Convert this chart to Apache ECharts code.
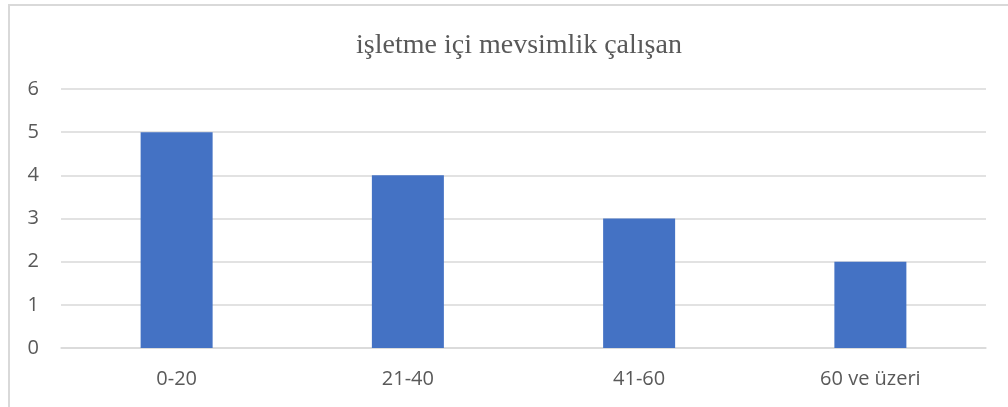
<!DOCTYPE html>
<html>
<head>
<meta charset="utf-8">
<script src="https://cdn.jsdelivr.net/npm/echarts@6/dist/echarts.min.js"></script>
<style>
  html, body { margin: 0; padding: 0; background: #fff; }
  #chart { width: 1008px; height: 407px; }
</style>
</head>
<body>
<div id="chart"></div>
<script>
var categories = ['0-20', '21-40', '41-60', '60 ve üzeri'];
var values = [5, 4, 3, 2];
var titleText = 'işletme içi mevsimlik çalışan';

var myChart = echarts.init(document.getElementById('chart'));

var option = {
    animation: false,
    title: {
        text: titleText,
        left: 514,
        textAlign: 'center',
        top: 27,
        textStyle: {
            fontFamily: 'Liberation Serif',
            fontWeight: 'normal',
            fontSize: 28,
            color: '#595959'
        }
    },
    // chart frame (only left and top edges visible)
    graphic: [{
        type: 'rect',
        shape: { x: 9, y: 5, width: 1200, height: 600 },
        style: { fill: 'none', stroke: '#d9d9d9', lineWidth: 2 },
        silent: true
    }],
    grid: {
        left: 61,
        right: 22,
        top: 89,
        bottom: 59
    },
    xAxis: {
        type: 'category',
        data: categories,
        axisLine: { lineStyle: { color: '#d9d9d9', width: 1.5 } },
        axisTick: { show: false },
        axisLabel: {
            fontFamily: 'Open Sans',
            fontSize: 20,
            color: '#595959',
            margin: 21
        }
    },
    yAxis: {
        type: 'value',
        min: 0,
        max: 6,
        interval: 1,
        axisLine: { show: false },
        axisTick: { show: false },
        splitLine: { lineStyle: { color: '#d9d9d9', width: 1.5 } },
        axisLabel: {
            fontFamily: 'Open Sans',
            fontSize: 20,
            color: '#595959',
            margin: 22
        }
    },
    series: [{
        type: 'bar',
        data: values,
        barWidth: 72,
        itemStyle: { color: '#4472c4' }
    }]
};
myChart.setOption(option);
</script>
</body>
</html>
